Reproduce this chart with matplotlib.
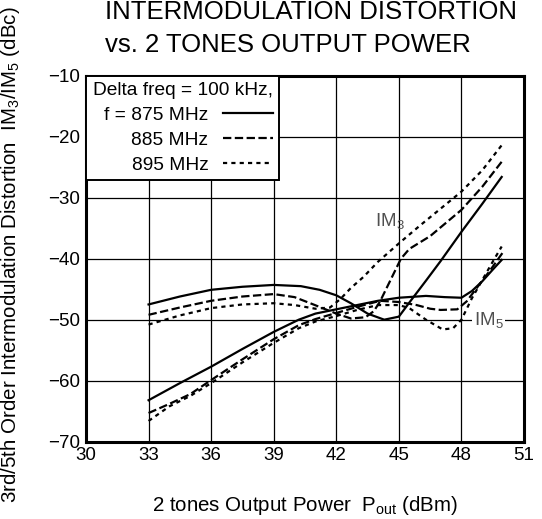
import matplotlib
matplotlib.use("Agg")
import matplotlib.pyplot as plt

plt.rcParams['font.family'] = ['Liberation Sans', 'DejaVu Sans']
plt.rcParams['mathtext.fontset'] = 'custom'
plt.rcParams['mathtext.rm'] = 'Liberation Sans'
plt.rcParams['mathtext.it'] = 'Liberation Sans:italic'
plt.rcParams['mathtext.bf'] = 'Liberation Sans:bold'
plt.rcParams['lines.scale_dashes'] = False

# ---- data ----
im3_875_x = [33, 34.5, 36, 37.5, 39, 40.3, 41.2, 42, 42.7, 43.5, 44.3, 45, 45.5, 46.3, 47, 48, 49, 49.93]
im3_875_y = [-47.5, -46.2, -45.1, -44.6, -44.3, -44.5, -45.1, -46.0, -47.3, -49.0, -50.0, -49.5, -47.2, -43.6, -40.4, -35.6, -31.0, -26.6]

im3_885_x = [33, 34.5, 36, 37.5, 39, 40, 40.9, 42, 42.7, 43.4, 43.8, 44.1, 44.6, 45.1, 45.5, 46.5, 48, 49, 50]
im3_885_y = [-49.2, -48.0, -46.9, -46.2, -45.8, -46.3, -47.5, -49.0, -49.8, -49.6, -48.6, -47.0, -43.5, -40.0, -38.4, -36.3, -32.0, -28.2, -23.8]

im3_895_x = [33, 34.5, 36, 37.5, 39, 40, 41, 41.7, 42.2, 42.7, 43.3, 44, 45, 46, 47, 48, 49, 49.93]
im3_895_y = [-50.8, -49.3, -48.1, -47.5, -47.3, -47.6, -48.2, -48.0, -46.6, -44.8, -43.0, -40.5, -37.5, -34.6, -31.8, -29.0, -25.5, -21.4]

im5_875_x = [33, 34.5, 36, 37.5, 39, 40.2, 41, 42, 43, 44, 45, 46.3, 47.2, 48, 48.5, 49, 49.5, 49.93]
im5_875_y = [-63.2, -60.4, -57.7, -54.8, -52.0, -50.0, -49.0, -48.3, -47.6, -46.9, -46.4, -46.1, -46.3, -46.4, -45.3, -43.7, -41.8, -40.2]

im5_885_x = [33, 34, 35, 36, 37.5, 39, 40.2, 41, 42, 43, 44.1, 45, 45.85, 46.5, 47, 47.8, 48.25, 48.8, 49.4, 50]
im5_885_y = [-65.3, -63.8, -62.2, -59.9, -56.5, -53.2, -50.9, -49.9, -48.9, -47.9, -46.9, -47.1, -47.6, -48.2, -48.4, -48.3, -47.0, -44.5, -41.8, -38.9]

im5_895_x = [33, 34, 35, 36, 37.5, 39, 40.2, 41, 42, 43, 44, 45, 45.5, 46.3, 47.1, 47.6, 48, 48.5, 49, 49.5, 49.93]
im5_895_y = [-66.6, -64.2, -62.5, -60.4, -57.0, -53.8, -51.4, -50.3, -49.4, -48.4, -47.6, -47.6, -48.1, -50.0, -51.6, -51.4, -50.0, -46.5, -43.5, -40.5, -38.0]

legend_title = 'Delta freq = 100 kHz,'
legend_labels = ['f = 875 MHz', '885 MHz', '895 MHz']
x_ticks = [30, 33, 36, 39, 42, 45, 48, 51]
y_ticks = [-70, -60, -50, -40, -30, -20, -10]

FS = 13.5
FS_LEG = 13.8
FS_LAB = 14.8
W, H = 542, 519

fig = plt.figure(figsize=(W / 100, H / 100), dpi=100)
ax = fig.add_axes([86 / W, 1 - 441.7 / H, 438 / W, 366 / H])

styles = [dict(linestyle='-'), dict(linestyle=(0, (6, 2.5))), dict(linestyle=(0, (3, 3)))]
lw = 1.6
h1, = ax.plot(im3_875_x, im3_875_y, color='black', lw=lw, **styles[0])
h2, = ax.plot(im3_885_x, im3_885_y, color='black', lw=lw, **styles[1])
h3, = ax.plot(im3_895_x, im3_895_y, color='black', lw=lw, **styles[2])
ax.plot(im5_875_x, im5_875_y, color='black', lw=lw, **styles[0])
ax.plot(im5_885_x, im5_885_y, color='black', lw=lw, **styles[1])
ax.plot(im5_895_x, im5_895_y, color='black', lw=lw, **styles[2])

ax.set_xlim(30, 51)
ax.set_ylim(-70, -10)
ax.set_xticks(x_ticks)
ax.set_yticks(y_ticks)
ax.grid(True, color='black', lw=0.9)
ax.set_axisbelow(True)
for s in ax.spines.values():
    s.set_linewidth(2.2)
ax.tick_params(length=0, labelsize=FS, pad=4, colors='black')

ax.set_xlabel(r'2 tones Output Power  P$_{\mathrm{out}}$ (dBm)', fontsize=FS_LAB, va='top')
ax.xaxis.set_label_coords(0.5, -0.142)
ax.set_ylabel(r'3rd/5th Order Intermodulation Distortion  IM$_{\mathrm{3}}$/IM$_{\mathrm{5}}$ (dBc)', fontsize=FS_LAB)
ax.yaxis.set_label_coords(-0.146, 0.51)

ax.text(44.55, -33.8, r'IM$_{\mathrm{3}}$', fontsize=FS, color='#505050', ha='center', va='center')
ax.text(49.3, -50.0, r'IM$_{\mathrm{5}}$', fontsize=FS, color='#505050', ha='center', va='center',
        bbox=dict(facecolor='white', edgecolor='none', pad=1.5))

leg = ax.legend([h1, h2, h3], legend_labels, title=legend_title, loc='upper left',
                bbox_to_anchor=(0, 1), borderaxespad=0, markerfirst=False, alignment='right',
                fontsize=FS_LEG, title_fontsize=FS_LEG, handlelength=2.6, handletextpad=0.75,
                labelspacing=0.38, borderpad=0.35, fancybox=False, edgecolor='black',
                framealpha=1, frameon=True)
leg.get_frame().set_linewidth(1.4)

fig.text(105 / W, 1 - 19 / H, 'INTERMODULATION DISTORTION', fontsize=18.5, ha='left', va='baseline')
fig.text(105 / W, 1 - 52 / H, 'vs. 2 TONES OUTPUT POWER', fontsize=18.5, ha='left', va='baseline')

fig.savefig('out.png', dpi=100)
